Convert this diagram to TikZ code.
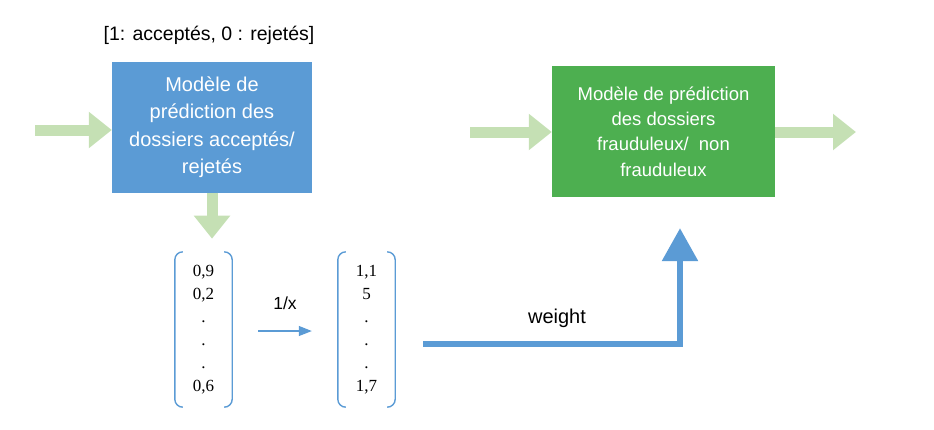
\documentclass[tikz,border=0pt]{standalone}
\usepackage{fontspec}
\setmainfont{Liberation Sans}
\newfontfamily\numfont{Liberation Serif}
\usetikzlibrary{arrows.meta,positioning}
\definecolor{modblue}{RGB}{91,155,213}
\definecolor{modgreen}{RGB}{77,175,80}
\definecolor{flowgreen}{RGB}{197,224,180}
\tikzset{model/.style = {draw=none, text=white, align=center, font=\fontsize{20}{27.5}\selectfont}}
\tikzset{flow/.style = {draw=flowgreen, line width=11pt, -{Triangle[width=35pt,length=23pt]}}}
\tikzset{vect/.style = {minimum width=57pt, minimum height=155pt, align=center, font=\numfont\fontsize{17}{23}\selectfont}}
\tikzset{bracket/.style = {draw=modblue, line width=1.4pt, rounded corners=8pt}}

\begin{document}
\begin{tikzpicture}[x=1pt,y=-1pt]
        \useasboundingbox (0,0) rectangle (934,429);

        % premier modele
        \node[model, fill=modblue, minimum width=200pt, minimum height=131pt] (accept) at (212,127)
            {Modèle de\\prédiction des\\dossiers acceptés/\\rejetés};
        \node[font=\fontsize{19.5}{22}\selectfont] (codage) at (209,35) {[1: acceptés, 0 : rejetés]};

        % second modele
        \node[model, fill=modgreen, minimum width=223pt, minimum height=131pt,
              font=\fontsize{18.5}{25.3}\selectfont] (fraude) at (663.5,131.5)
            {Modèle de prédiction\\des dossiers\\frauduleux/\ \ non\\frauduleux};

        % vecteurs
        \node[vect] (proba) at (203.5,329.5) {0,9\\0,2\\.\\.\\.\\0,6};
        \node[vect] (poids) at (366.5,329.5) {1,1\\5\\.\\.\\.\\1,7};
        \foreach \v in {proba,poids} {
            \draw[bracket] ([xshift=8pt]\v.north west) -- (\v.north west) -- (\v.south west) -- ([xshift=8pt]\v.south west);
            \draw[bracket] ([xshift=-8pt]\v.north east) -- (\v.north east) -- (\v.south east) -- ([xshift=-8pt]\v.south east);
        }

        % fleches vertes
        \coordinate (entreeA) at (35,130);
        \coordinate (entreeF) at (470,132);
        \coordinate (sortieF) at (856,132);
        \draw[flow] (entreeA) -- (accept.west |- entreeA);
        \draw[flow] (entreeF) -- (fraude.west |- entreeF);
        \draw[flow] (fraude.east |- sortieF) -- (sortieF);
        \draw[flow] (accept.south) -- ++(0,46) coordinate (basA);

        % inversion
        \draw[draw=modblue, line width=1.2pt, -{Triangle[width=10pt,length=13pt]}, shorten <=26pt, shorten >=26pt]
            (proba.east |- 0,331) -- (poids.west |- 0,331)
            node[midway, above=17pt, font=\fontsize{17.5}{20}\selectfont] (inv) {1/x};

        % poids vers le second modele
        \draw[draw=modblue, line width=6pt, -{Triangle[width=35pt,length=33pt]}, shorten <=28pt, shorten >=31pt]
            (poids.east |- 0,344) -| (fraude.south -| 680,0);
        \node[font=\fontsize{20}{22}\selectfont] (wlabel) at (557,318) {weight};
    \end{tikzpicture}
\end{document}
